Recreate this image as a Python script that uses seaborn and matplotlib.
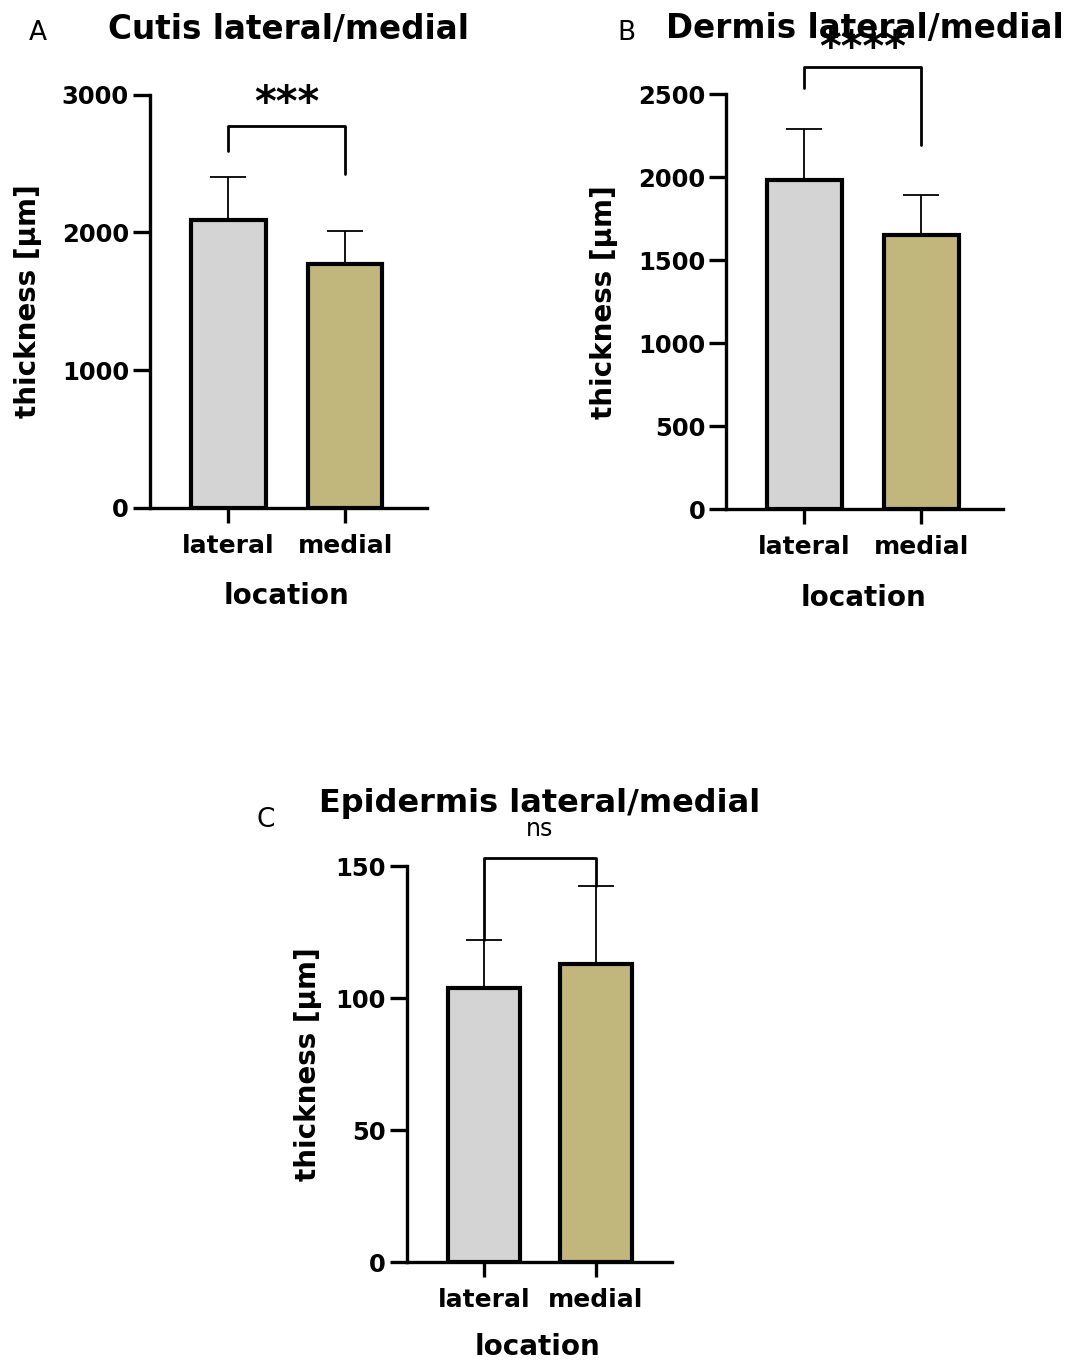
import pandas as pd
import matplotlib.pyplot as plt
import seaborn as sns

# ------------------------------------------------------------
# data
# ------------------------------------------------------------
locations = ["lateral", "medial"]
bar_colors = ["#d4d4d4", "#c1b77d"]

cutis_mean = [2090, 1770]
cutis_sd = [310, 240]

dermis_mean = [1985, 1650]
dermis_sd = [305, 240]

epidermis_mean = [104, 113]
epidermis_sd = [18, 29.5]

sns.set_theme(style="ticks", rc={"axes.edgecolor": "black", "text.color": "black",
                                 "axes.labelcolor": "black", "xtick.color": "black",
                                 "ytick.color": "black"})
plt.rcParams['font.family'] = ['DejaVu Sans']


def panel(ax, means, sds, title, sig, sig_bold, yticks, bracket_y, sig_y,
          xlim, ylab_x, title_y, title_size):
    df = pd.DataFrame({"location": locations, "thickness": means})
    sns.barplot(data=df, x="location", y="thickness", hue="location",
                palette=bar_colors, saturation=1, legend=False, width=0.64,
                edgecolor="black", linewidth=3, errorbar=None, ax=ax)
    # one-sided SD error bars
    ax.errorbar([0, 1], means, yerr=[[0, 0], sds], fmt="none", ecolor="black",
                elinewidth=1.3, capsize=13, capthick=1.3, zorder=1)

    # significance bracket
    ax.plot([0, 0, 1, 1], [bracket_y[0], bracket_y[1], bracket_y[1], bracket_y[2]],
            color="black", lw=2, clip_on=False)
    ax.text(0.5, sig_y, sig, ha="center", va="center",
            fontsize=30 if sig_bold else 17,
            fontweight="bold" if sig_bold else "normal")

    ax.set_xlim(*xlim)
    ax.set_ylim(0, yticks[-1])
    ax.set_yticks(yticks)
    sns.despine(ax=ax)
    for sp in ["left", "bottom"]:
        ax.spines[sp].set_linewidth(2.4)
    ax.tick_params(axis="y", length=12, width=2.4, pad=3, labelsize=17.5)
    ax.tick_params(axis="x", length=11, width=2.4, pad=8, labelsize=18)
    for lab in ax.get_xticklabels() + ax.get_yticklabels():
        lab.set_fontweight("bold")

    ax.set_title(title, fontsize=title_size, fontweight="bold", y=title_y)
    ax.set_xlabel("location", fontsize=20, fontweight="bold")
    ax.set_ylabel("thickness [µm]", fontsize=20, fontweight="bold")
    ax.xaxis.set_label_coords(0.495, -0.18)
    ax.xaxis.label.set_va("top")
    ax.yaxis.set_label_coords(ylab_x, 0.5)
    return ax


fig = plt.figure(figsize=(10.7, 13.6), dpi=100)

ax_a = fig.add_axes([0.140, 0.6265, 0.259, 0.304])
panel(ax_a, cutis_mean, cutis_sd, "Cutis lateral/medial", "***", True,
      [0, 1000, 2000, 3000], [2590, 2770, 2420], 2930, (-0.67, 1.70), -0.39, 1.115, 23.5)

ax_b = fig.add_axes([0.6785, 0.6257, 0.259, 0.305])
panel(ax_b, dermis_mean, dermis_sd, "Dermis lateral/medial", "****", True,
      [0, 500, 1000, 1500, 2000, 2500], [2535, 2665, 2195], 2770, (-0.667, 1.70), -0.39, 1.115, 23.5)

ax_c = fig.add_axes([0.380, 0.072, 0.248, 0.291])
panel(ax_c, epidermis_mean, epidermis_sd, "Epidermis lateral/medial", "ns", False,
      [0, 50, 100, 150], [122, 153, 142.5], 164, (-0.69, 1.68), -0.32, 1.115, 23)

# panel letters
fig.text(38 / 1070, 1 - 33 / 1360, "A", fontsize=19, ha="center", va="center")
fig.text(626 / 1070, 1 - 33 / 1360, "B", fontsize=19, ha="center", va="center")
fig.text(266 / 1070, 1 - 820 / 1360, "C", fontsize=19, ha="center", va="center")

plt.savefig("out.png", dpi=100)
plt.close()
